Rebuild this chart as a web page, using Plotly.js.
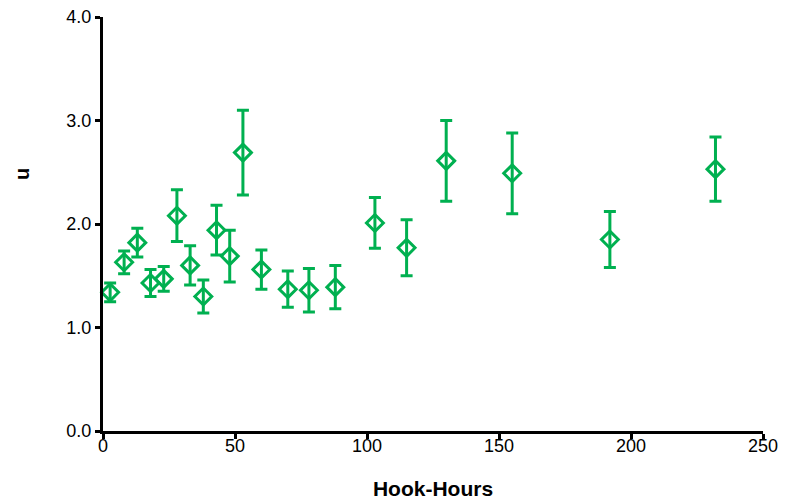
<!DOCTYPE html>
<html>
<head>
<meta charset="utf-8">
<script src="https://cdn.plot.ly/plotly-3.0.1.min.js"></script>
<style>html,body{margin:0;padding:0;background:#fff;}#chart{width:793px;height:504px;}</style>
</head>
<body>
<div id="chart"></div>
<script>
const hookHours = [2.7, 8, 13, 18, 23, 28, 33, 38, 43, 48, 53, 60, 70, 78, 88, 103, 115, 130, 155, 192, 232];
const uValues   = [1.34, 1.63, 1.82, 1.43, 1.47, 2.08, 1.60, 1.30, 1.94, 1.69, 2.69, 1.56, 1.37, 1.36, 1.39, 2.01, 1.77, 2.61, 2.49, 1.85, 2.53];
const uErrors   = [0.09, 0.11, 0.14, 0.13, 0.12, 0.25, 0.19, 0.16, 0.24, 0.25, 0.41, 0.19, 0.175, 0.21, 0.21, 0.245, 0.27, 0.39, 0.39, 0.27, 0.31];
const xTicks = [0, 50, 100, 150, 200, 250];
const yTicks = [0, 1, 2, 3, 4];

const green = '#00B050';
const trace = {
  x: hookHours, y: uValues, type: 'scatter', mode: 'markers',
  marker: {symbol: 'diamond-open', size: 13, color: green, line: {width: 3, color: green}},
  error_y: {type: 'data', array: uErrors, visible: true, color: green, thickness: 3, width: 6},
  cliponaxis: false, showlegend: false
};
const layout = {
  width: 793, height: 504,
  margin: {l: 103, r: 30, t: 17, b: 73},
  paper_bgcolor: '#fff', plot_bgcolor: '#fff',
  font: {family: 'Arial, "Liberation Sans", sans-serif', size: 18, color: '#000'},
  xaxis: {
    range: [0, 250], tickvals: xTicks, ticktext: xTicks.map(String),
    showgrid: false, zeroline: false, showline: true, linecolor: '#000', linewidth: 3,
    ticks: 'outside', ticklen: 5, tickwidth: 3, tickcolor: '#000',
    tickfont: {size: 18}, ticklabelstandoff: -9,
    title: {text: '<b>Hook-Hours</b>', font: {size: 21}, standoff: 27}
  },
  yaxis: {
    range: [0, 4], tickvals: yTicks, ticktext: yTicks.map(v => v.toFixed(1)),
    showgrid: false, zeroline: false, showline: true, linecolor: '#000', linewidth: 3,
    ticks: 'outside', ticklen: 5, tickwidth: 3, tickcolor: '#000',
    tickfont: {size: 18}
  },
  annotations: [{
    text: '<b>u</b>', xref: 'paper', yref: 'paper', x: -0.1227, y: 0.621,
    xanchor: 'center', yanchor: 'middle', textangle: -90, showarrow: false,
    font: {size: 20, color: '#000'}
  }]
};
Plotly.newPlot('chart', [trace], layout, {displayModeBar: false, staticPlot: true});
</script>
</body>
</html>
